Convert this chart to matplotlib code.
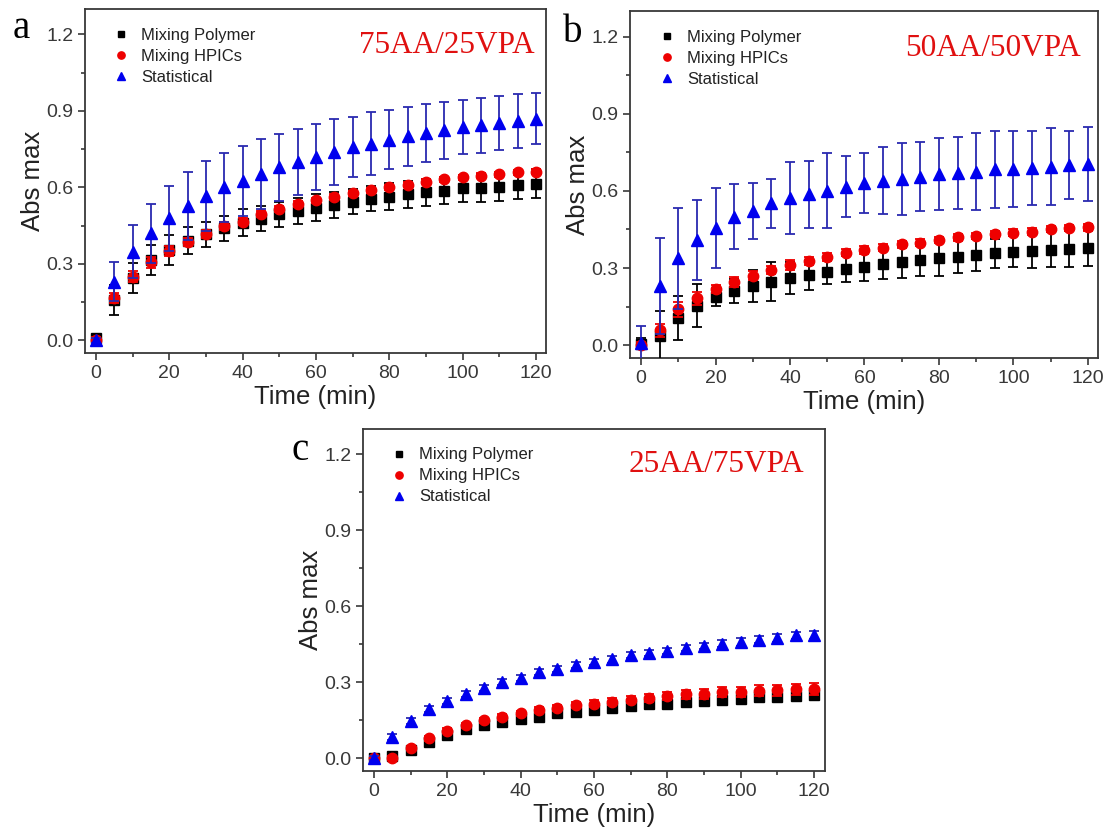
import matplotlib
matplotlib.use("Agg")
import matplotlib.pyplot as plt
from matplotlib.ticker import MultipleLocator

# sampling times (min)
time = [0, 5, 10, 15, 20, 25, 30, 35, 40, 45, 50, 55, 60,
        65, 70, 75, 80, 85, 90, 95, 100, 105, 110, 115, 120]

# 75AA/25VPA
a_poly = [0.007, 0.158, 0.244, 0.314, 0.353, 0.391, 0.415, 0.439, 0.461, 0.477, 0.494, 0.507, 0.520,
          0.531, 0.544, 0.556, 0.563, 0.572, 0.580, 0.586, 0.596, 0.598, 0.603, 0.609, 0.614]
a_poly_err = [0.010, 0.060, 0.060, 0.060, 0.058, 0.053, 0.050, 0.050, 0.053, 0.050, 0.050, 0.050, 0.052,
              0.050, 0.050, 0.050, 0.053, 0.052, 0.052, 0.053, 0.054, 0.054, 0.055, 0.055, 0.056]
a_hpic = [0.000, 0.165, 0.250, 0.305, 0.350, 0.386, 0.418, 0.448, 0.465, 0.494, 0.514, 0.534, 0.549,
          0.563, 0.576, 0.589, 0.600, 0.610, 0.622, 0.632, 0.639, 0.646, 0.652, 0.659, 0.661]
a_hpic_err = [0.012, 0.020, 0.020, 0.020, 0.018, 0.016, 0.015, 0.014, 0.013, 0.012, 0.012, 0.012, 0.011,
              0.011, 0.011, 0.010, 0.010, 0.010, 0.010, 0.010, 0.010, 0.010, 0.010, 0.010, 0.010]
a_stat = [0.000, 0.230, 0.347, 0.420, 0.478, 0.527, 0.567, 0.600, 0.626, 0.652, 0.679, 0.698, 0.718,
          0.738, 0.758, 0.771, 0.787, 0.800, 0.813, 0.823, 0.837, 0.843, 0.852, 0.860, 0.870]
a_stat_err = [0.010, 0.076, 0.104, 0.116, 0.128, 0.134, 0.138, 0.136, 0.138, 0.136, 0.132, 0.129, 0.129,
              0.129, 0.119, 0.123, 0.116, 0.116, 0.115, 0.112, 0.105, 0.108, 0.105, 0.105, 0.101]

# 50AA/50VPA
b_poly = [0.006, 0.035, 0.104, 0.153, 0.187, 0.210, 0.230, 0.247, 0.262, 0.273, 0.286, 0.296, 0.305,
          0.316, 0.322, 0.331, 0.338, 0.344, 0.351, 0.357, 0.364, 0.366, 0.371, 0.374, 0.379]
b_poly_err = [0.020, 0.097, 0.086, 0.083, 0.036, 0.048, 0.062, 0.077, 0.062, 0.060, 0.050, 0.050, 0.057,
              0.060, 0.060, 0.062, 0.068, 0.065, 0.062, 0.055, 0.061, 0.065, 0.068, 0.070, 0.070]
b_hpic = [0.000, 0.058, 0.139, 0.182, 0.218, 0.247, 0.270, 0.292, 0.312, 0.327, 0.344, 0.360, 0.370,
          0.379, 0.392, 0.399, 0.409, 0.419, 0.426, 0.432, 0.438, 0.442, 0.451, 0.457, 0.458]
b_hpic_err = [0.012, 0.025, 0.030, 0.025, 0.015, 0.020, 0.018, 0.015, 0.020, 0.015, 0.015, 0.014, 0.014,
              0.013, 0.013, 0.013, 0.012, 0.012, 0.012, 0.012, 0.012, 0.012, 0.012, 0.012, 0.012]
b_stat = [0.010, 0.230, 0.338, 0.409, 0.457, 0.500, 0.523, 0.552, 0.571, 0.587, 0.601, 0.617, 0.630,
          0.640, 0.645, 0.656, 0.665, 0.669, 0.675, 0.684, 0.686, 0.690, 0.695, 0.701, 0.705]
b_stat_err = [0.066, 0.187, 0.197, 0.156, 0.156, 0.127, 0.109, 0.095, 0.140, 0.131, 0.145, 0.120, 0.117,
              0.130, 0.140, 0.135, 0.140, 0.140, 0.149, 0.149, 0.148, 0.144, 0.149, 0.132, 0.144]

# 25AA/75VPA
c_poly = [0.000, 0.009, 0.033, 0.063, 0.092, 0.114, 0.131, 0.144, 0.155, 0.164, 0.177, 0.182, 0.190,
          0.197, 0.206, 0.214, 0.216, 0.223, 0.227, 0.232, 0.236, 0.240, 0.242, 0.245, 0.249]
c_poly_err = [0.005, 0.006, 0.008, 0.008, 0.008, 0.008, 0.008, 0.008, 0.008, 0.008, 0.008, 0.008, 0.008,
              0.008, 0.009, 0.009, 0.009, 0.010, 0.010, 0.010, 0.010, 0.011, 0.011, 0.012, 0.012]
c_hpic = [0.000, 0.003, 0.039, 0.079, 0.109, 0.131, 0.151, 0.164, 0.177, 0.190, 0.200, 0.210, 0.216,
          0.223, 0.232, 0.238, 0.245, 0.252, 0.255, 0.261, 0.263, 0.267, 0.269, 0.272, 0.275]
c_hpic_err = [0.005, 0.006, 0.008, 0.010, 0.010, 0.010, 0.010, 0.011, 0.011, 0.012, 0.012, 0.012, 0.013,
              0.014, 0.015, 0.015, 0.016, 0.018, 0.019, 0.020, 0.020, 0.021, 0.022, 0.023, 0.024]
c_stat = [0.000, 0.085, 0.148, 0.193, 0.225, 0.255, 0.279, 0.301, 0.318, 0.340, 0.354, 0.369, 0.380,
          0.390, 0.406, 0.415, 0.423, 0.435, 0.443, 0.452, 0.459, 0.468, 0.474, 0.485, 0.485]
c_stat_err = [0.008, 0.012, 0.012, 0.012, 0.012, 0.012, 0.012, 0.012, 0.012, 0.012, 0.012, 0.012, 0.012,
              0.012, 0.012, 0.012, 0.012, 0.013, 0.013, 0.013, 0.014, 0.014, 0.015, 0.015, 0.016]

series_names = ["Mixing Polymer", "Mixing HPICs", "Statistical"]
panel_titles = ["75AA/25VPA", "50AA/50VPA", "25AA/75VPA"]
panel_letters = ["a", "b", "c"]

SANS = ["Liberation Sans", "DejaVu Sans"]
SERIF = ["Liberation Serif", "DejaVu Serif"]
GREY = "#383838"

plt.rcParams["font.family"] = SANS

fig = plt.figure(figsize=(11.11, 8.36), dpi=100)

# axes boxes in figure fractions
boxes = [
    [0.0765, 0.5778, 0.4149, 0.4115],
    [0.5670, 0.5718, 0.4212, 0.4150],
    [0.3267, 0.0778, 0.4158, 0.4091],
]
xlims = [(-3.0, 122.7), (-3.0, 122.7), (-3.0, 123.0)]
title_pos = [(0.786, 0.895), (0.776, 0.892), (0.766, 0.897)]
letter_pos = [(0.011, 0.9545), (0.507, 0.9498), (0.262, 0.4498)]

panels = [
    (a_poly, a_poly_err, a_hpic, a_hpic_err, a_stat, a_stat_err),
    (b_poly, b_poly_err, b_hpic, b_hpic_err, b_stat, b_stat_err),
    (c_poly, c_poly_err, c_hpic, c_hpic_err, c_stat, c_stat_err),
]

styles = [
    dict(fmt="s", color="black", ecolor="black", ms=7),
    dict(fmt="o", color="#ee0000", ecolor="#ee0000", ms=7.5),
    dict(fmt="^", color="#0000ee", ecolor="#2a2ab0", ms=8.5),
]

for i, (box, data) in enumerate(zip(boxes, panels)):
    ax = fig.add_axes(box)
    handles = []
    for k in range(3):
        st = styles[k]
        eb = ax.errorbar(time, data[2 * k], yerr=data[2 * k + 1], fmt=st["fmt"],
                         color=st["color"], ecolor=st["ecolor"], ms=st["ms"],
                         mec=st["color"], elinewidth=1.3, capsize=3.5, capthick=1.3,
                         zorder=3 + k)
        handles.append(eb[0])

    ax.set_xlim(*xlims[i])
    ax.set_ylim(-0.05, 1.3)
    ax.xaxis.set_major_locator(MultipleLocator(20))
    ax.xaxis.set_minor_locator(MultipleLocator(10))
    ax.yaxis.set_major_locator(MultipleLocator(0.3))
    ax.yaxis.set_minor_locator(MultipleLocator(0.15))
    ax.yaxis.set_major_formatter(plt.FormatStrFormatter("%.1f"))
    ax.tick_params(which="both", direction="out", colors=GREY, width=1.2,
                   top=False, right=False)
    ax.tick_params(which="major", length=5, labelsize=14, labelcolor=GREY)
    ax.tick_params(which="minor", length=3)
    for sp in ax.spines.values():
        sp.set_color(GREY)
        sp.set_linewidth(1.3)

    ax.set_xlabel("Time (min)", fontsize=18.5, color="#222222", labelpad=2)
    ax.set_ylabel("Abs max", fontsize=18.5, color="#222222", labelpad=1)

    leg = ax.legend(handles, series_names, loc="upper left",
                    bbox_to_anchor=(0.061, 0.946), frameon=False, fontsize=12,
                    handlelength=1.0, handletextpad=0.7, labelspacing=0.36,
                    borderpad=0, borderaxespad=0, markerscale=0.7)
    for t in leg.get_texts():
        t.set_color("#222222")

    ax.text(title_pos[i][0], title_pos[i][1], panel_titles[i], transform=ax.transAxes,
            ha="center", va="center", fontsize=22.5, color="#e01010", family=SERIF)
    fig.text(letter_pos[i][0], letter_pos[i][1], panel_letters[i], ha="left",
             va="baseline", fontsize=28, color="black", family=SERIF)

fig.savefig("out.png", dpi=100)
